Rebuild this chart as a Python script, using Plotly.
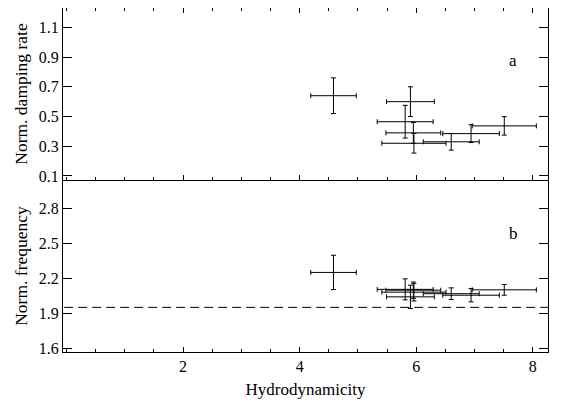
import plotly.graph_objects as go

# Data
hydro = [4.58, 5.90, 5.81, 5.95, 5.96, 6.60, 6.94, 7.51]
hydro_err = [0.39, 0.41, 0.48, 0.47, 0.55, 0.48, 0.485, 0.55]

damping = [0.64, 0.60, 0.465, 0.39, 0.32, 0.33, 0.385, 0.437]
damping_err = [0.12, 0.10, 0.11, 0.07, 0.066, 0.056, 0.06, 0.062]

frequency = [2.249, 2.04, 2.104, 2.097, 2.08, 2.067, 2.054, 2.10]
frequency_err = [0.147, 0.10, 0.09, 0.07, 0.075, 0.05, 0.057, 0.046]

ref_frequency = 1.95

x_ticks = [2, 4, 6, 8]
damp_ticks = [0.1, 0.3, 0.5, 0.7, 0.9, 1.1]
freq_ticks = [1.6, 1.9, 2.2, 2.5, 2.8]

FONT = "Liberation Serif, Times New Roman, serif"
fig = go.Figure()

def add_panel(y, yerr, xa, ya):
    fig.add_trace(go.Scatter(
        x=hydro, y=y, mode="markers", xaxis=xa, yaxis=ya,
        marker=dict(size=1, color="black"),
        error_x=dict(type="data", array=hydro_err, color="black", thickness=1, width=2.5),
        error_y=dict(type="data", array=yerr, color="black", thickness=1, width=2.5),
        showlegend=False, hoverinfo="skip"))

add_panel(damping, damping_err, "x2", "y2")
add_panel(frequency, frequency_err, "x", "y")

fig.add_trace(go.Scatter(
    x=[-1, 10], y=[ref_frequency, ref_frequency], mode="lines",
    line=dict(color="black", width=1, dash="9px,5px"),
    xaxis="x", yaxis="y", showlegend=False, hoverinfo="skip"))

def xaxis_style(mirror):
    return dict(range=[-0.06, 8.26], tickvals=x_ticks, ticktext=[str(v) for v in x_ticks],
                ticks="inside", ticklen=5,
                tickcolor="black", showline=True, linecolor="black", linewidth=1,
                mirror=mirror, showgrid=False, zeroline=False,
                minor=dict(tick0=0, dtick=0.5, ticks="inside", ticklen=3, tickcolor="black",
                           showgrid=False),
                tickfont=dict(family=FONT, size=16, color="black"))

ycommon = dict(ticks="inside", ticklen=9, tickcolor="black", showline=True,
               linecolor="black", linewidth=1, mirror="allticks", showgrid=False,
               zeroline=False, tickfont=dict(family=FONT, size=16, color="black"))

fig.update_layout(
    width=553, height=395,
    margin=dict(l=55, r=13, t=0, b=51),
    paper_bgcolor="white", plot_bgcolor="white",
    font=dict(family=FONT, size=16, color="black"),
    xaxis=dict(**xaxis_style(False), domain=[0, 1], anchor="y",
               title=dict(text="Hydrodynamicity", font=dict(family=FONT, size=17), standoff=8)),
    yaxis=dict(**ycommon, domain=[0, 0.5], anchor="x", range=[1.568, 3.04],
               tickvals=freq_ticks, ticktext=[f"{v:.1f}" for v in freq_ticks],
               title=dict(text="Norm. frequency", font=dict(family=FONT, size=17.5), standoff=6)),
    xaxis2=dict(**xaxis_style("ticks"), domain=[0, 1], anchor="y2", showticklabels=False),
    yaxis2=dict(**ycommon, domain=[0.5, 1], anchor="x2", range=[0.073, 1.23],
                tickvals=damp_ticks, ticktext=[f"{v:.1f}" for v in damp_ticks],
                title=dict(text="Norm. damping rate", font=dict(family=FONT, size=17.5), standoff=6)),
    annotations=[
        dict(text="a", x=7.66, y=0.88, xref="x2", yref="y2", showarrow=False,
             font=dict(family=FONT, size=17, color="black")),
        dict(text="b", x=7.66, y=2.586, xref="x", yref="y", showarrow=False,
             font=dict(family=FONT, size=17, color="black")),
    ],
)

fig.write_html("out.html")
